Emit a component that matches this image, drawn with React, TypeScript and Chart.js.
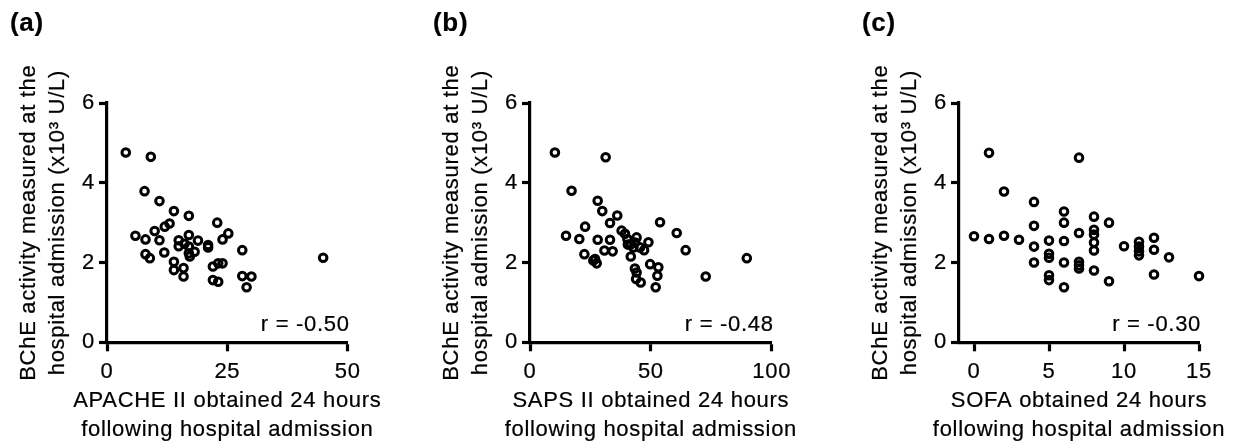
import React, { useEffect, useRef } from "react";
import { Chart, registerables } from "chart.js";

Chart.register(...registerables);

// ---------- data ----------
const yTicks = [0, 2, 4, 6];
const xTicksA = [0, 25, 50];
const xTicksB = [0, 50, 100];
const xTicksC = [0, 5, 10, 15];

const apacheX = [3.9, 9.1, 7.8, 10.9, 13.9, 17.0, 22.9, 12.0, 13.0, 25.2, 24.0, 5.9, 9.9, 8.0, 10.9, 14.9, 14.9, 17.0, 18.9, 17.0, 17.0, 21.0, 21.0, 28.1, 11.9, 8.0, 8.9, 18.2, 17.2, 13.9, 13.9, 15.9, 15.9, 22.0, 23.1, 24.0, 22.0, 23.1, 28.1, 30.0, 29.0, 44.9, 16.1];
const apacheY = [4.76, 4.65, 3.79, 3.54, 3.29, 3.17, 3.0, 2.9, 2.98, 2.73, 2.58, 2.67, 2.79, 2.58, 2.56, 2.56, 2.41, 2.69, 2.55, 2.4, 2.23, 2.44, 2.38, 2.31, 2.25, 2.21, 2.11, 2.27, 2.15, 2.02, 1.81, 1.86, 1.65, 1.9, 1.98, 1.98, 1.56, 1.52, 1.66, 1.65, 1.38, 2.12, 2.47];

const sapsX = [10.3, 31.3, 17.2, 28.0, 29.9, 36.1, 33.1, 53.8, 22.8, 60.7, 14.9, 20.4, 28.0, 33.1, 37.9, 39.3, 40.3, 44.1, 41.7, 42.8, 49.0, 45.5, 47.2, 64.4, 22.5, 30.8, 34.2, 41.7, 26.2, 27.6, 26.9, 49.7, 53.1, 52.7, 43.4, 44.1, 43.9, 45.8, 52.0, 72.7, 89.7, 43.5, 40.5];
const sapsY = [4.76, 4.64, 3.8, 3.55, 3.29, 3.18, 2.99, 3.01, 2.9, 2.74, 2.67, 2.59, 2.57, 2.57, 2.8, 2.72, 2.59, 2.63, 2.46, 2.38, 2.51, 2.38, 2.31, 2.31, 2.21, 2.3, 2.28, 2.15, 2.05, 1.98, 2.09, 1.96, 1.88, 1.67, 1.85, 1.75, 1.59, 1.5, 1.38, 1.65, 2.11, 2.5, 2.45];

const sofaX = [1, 7, 2, 4, 6, 6, 8, 9, 4, 7, 8, 8, 0, 1, 2, 3, 4, 5, 6, 8, 8, 10, 11, 11, 11, 11, 12, 12, 13, 4, 5, 5, 6, 7, 7, 7, 8, 5, 5, 9, 6, 12, 15];
const sofaY = [4.75, 4.63, 3.78, 3.52, 3.28, 3.0, 3.15, 3.0, 2.92, 2.74, 2.82, 2.7, 2.66, 2.59, 2.67, 2.57, 2.4, 2.55, 2.54, 2.5, 2.3, 2.41, 2.52, 2.4, 2.28, 2.18, 2.62, 2.32, 2.13, 2.0, 2.22, 2.12, 2.0, 2.02, 1.93, 1.85, 1.8, 1.68, 1.56, 1.53, 1.38, 1.7, 1.66];

const yTitle = ["BChE activity measured at the", "hospital admission (x10\u00B3 U/L)"];
const panelLabels = ["(a)", "(b)", "(c)"];
const rTexts = ["r = -0.50", "r = -0.48", "r = -0.30"];
const xTitles = [
  ["APACHE II obtained 24 hours", "following hospital admission"],
  ["SAPS II obtained 24 hours", "following hospital admission"],
  ["SOFA obtained 24 hours", "following hospital admission"],
];
const xMins = [0, 0, -1];
const xMaxs = [50, 100, 15];

// ---------- layout ----------
const W = 1243;
const H = 443;
const FONT = "'Liberation Sans', Arial, Helvetica, sans-serif";
const areaLeft = [107, 530, 959];
const areaRight = [347.7, 771.7, 1199];
const areaTop = 103;
const areaBottom = 342.3;
const TEXT_STROKE = 0.22;

function heavyText(ctx: any, text: string, x: number, y: number) {
  ctx.fillText(text, x, y);
  ctx.strokeText(text, x, y);
}

const panelTextPlugin = {
  id: "panelText",
  beforeDraw(chart: any) {
    chart.ctx.letterSpacing = "0.7px";
  },
  afterDraw(chart: any, _args: any, opts: any) {
    const ctx = chart.ctx;
    const a = chart.chartArea;
    ctx.save();
    ctx.letterSpacing = "0.7px";
    ctx.fillStyle = "#000";
    ctx.strokeStyle = "#000";
    ctx.lineWidth = TEXT_STROKE;
    ctx.lineJoin = "round";
    // panel label
    ctx.font = `bold 26px ${FONT}`;
    ctx.textAlign = "left";
    ctx.textBaseline = "middle";
    heavyText(ctx, opts.label, a.left - 97, 24);
    // r value
    ctx.font = `22px ${FONT}`;
    ctx.textAlign = "right";
    heavyText(ctx, opts.r, a.right + 2, a.bottom - 17);
    // x title
    ctx.textAlign = "center";
    const cx = (a.left + a.right) / 2;
    heavyText(ctx, opts.xTitle[0], cx, 400.5);
    heavyText(ctx, opts.xTitle[1], cx, 429.5);
    // y title
    const cy = (a.top + a.bottom) / 2;
    ctx.save();
    ctx.translate(a.left - 78.5, cy);
    ctx.rotate(-Math.PI / 2);
    heavyText(ctx, yTitle[0], 0, 0);
    heavyText(ctx, yTitle[1], 0, 29);
    ctx.restore();
    ctx.restore();
  },
};

function Panel({ idx, xs, ys, xTicks }: { idx: number; xs: number[]; ys: number[]; xTicks: number[] }) {
  const ref = useRef<HTMLCanvasElement | null>(null);
  useEffect(() => {
    if (!ref.current) return;
    const data = xs.map((x, i) => ({ x, y: ys[i] }));
    const gridOpts = (len: number) => ({
      display: true,
      drawOnChartArea: false,
      drawTicks: true,
      tickLength: len,
      tickWidth: 3.2,
      tickColor: "#000",
      color: "#000",
      borderWidth: 3.2,
      borderColor: "#000",
    });
    const tickFont = { family: FONT, size: 22, lineHeight: 1.2 };
    const chart = new Chart(ref.current, {
      type: "scatter",
      data: {
        datasets: [
          {
            data,
            pointStyle: "circle",
            pointRadius: 3.8,
            pointBorderWidth: 3,
            borderWidth: 3,
            radius: 3.8,
            borderColor: "#000",
            backgroundColor: "rgba(0,0,0,0)",
            pointBackgroundColor: "rgba(0,0,0,0)",
            pointBorderColor: "#000",
            clip: false,
          } as any,
        ],
      },
      plugins: [panelTextPlugin],
      options: {
        animation: false,
        responsive: true,
        maintainAspectRatio: false,
        events: [],
        layout: {
          padding: {
            left: areaLeft[idx] - 107,
            right: W - areaRight[idx],
            top: areaTop,
            bottom: 0,
          },
        },
        plugins: {
          legend: { display: false },
          tooltip: { enabled: false },
          title: { display: false },
          panelText: { label: panelLabels[idx], r: rTexts[idx], xTitle: xTitles[idx] },
        } as any,
        scales: {
          x: {
            type: "linear",
            min: xMins[idx],
            max: xMaxs[idx],
            afterFit: (s: any) => {
              s.height = H - areaBottom;
            },
            afterBuildTicks: (s: any) => {
              s.ticks = xTicks.map((v) => ({ value: v }));
            },
            border: { display: true, color: "#000", width: 3.2 },
            grid: gridOpts(9),
            ticks: {
              color: "#000",
              padding: 7,
              maxRotation: 0,
              autoSkip: false,
              textStrokeColor: "#000",
              textStrokeWidth: TEXT_STROKE,
              font: tickFont,
            },
          },
          y: {
            type: "linear",
            min: 0,
            max: 6,
            afterFit: (s: any) => {
              s.width = 107;
            },
            afterBuildTicks: (s: any) => {
              s.ticks = yTicks.map((v) => ({ value: v }));
            },
            border: { display: true, color: "#000", width: 3.2 },
            grid: gridOpts(8),
            ticks: {
              color: "#000",
              padding: 4,
              autoSkip: false,
              textStrokeColor: "#000",
              textStrokeWidth: TEXT_STROKE,
              font: tickFont,
            },
          },
        },
      } as any,
    });
    return () => chart.destroy();
  }, []);
  return (
    <div style={{ position: "absolute", left: 0, top: 0, width: W, height: H }}>
      <canvas ref={ref} />
    </div>
  );
}

export default function App() {
  return (
    <div style={{ position: "absolute", left: 0, top: 0, width: W, height: H, background: "#fff" }}>
      <Panel idx={0} xs={apacheX} ys={apacheY} xTicks={xTicksA} />
      <Panel idx={1} xs={sapsX} ys={sapsY} xTicks={xTicksB} />
      <Panel idx={2} xs={sofaX} ys={sofaY} xTicks={xTicksC} />
    </div>
  );
}
